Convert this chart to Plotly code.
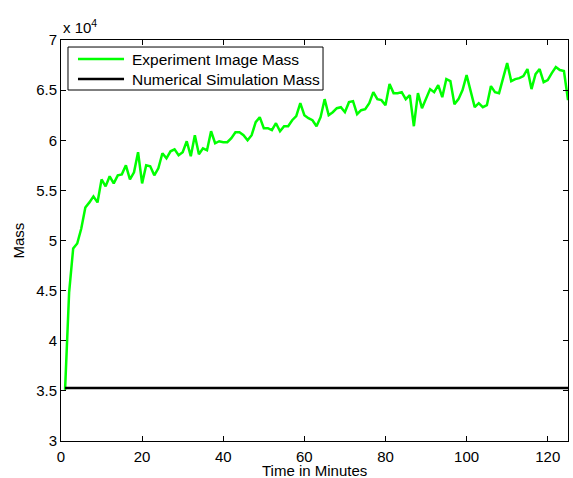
import plotly.graph_objects as go

# Time in minutes (one sample per minute)
time_min = list(range(1, 126))

# Experiment image mass (x 10^4)
experiment_mass_e4 = [
    3.51, 4.48, 4.92, 4.97, 5.12, 5.33, 5.38, 5.44, 5.38, 5.61,
    5.54, 5.64, 5.57, 5.65, 5.66, 5.75, 5.61, 5.68, 5.88, 5.57,
    5.75, 5.74, 5.65, 5.72, 5.87, 5.82, 5.89, 5.91, 5.85, 5.88,
    5.99, 5.84, 6.05, 5.86, 5.92, 5.90, 6.09, 5.97, 5.99, 5.98,
    5.98, 6.02, 6.08, 6.08, 6.05, 6.00, 6.05, 6.18, 6.23, 6.12,
    6.12, 6.10, 6.17, 6.09, 6.14, 6.14, 6.20, 6.24, 6.37, 6.25,
    6.22, 6.20, 6.14, 6.23, 6.41, 6.25, 6.28, 6.32, 6.33, 6.28,
    6.38, 6.39, 6.26, 6.30, 6.31, 6.37, 6.48, 6.41, 6.40, 6.35,
    6.56, 6.47, 6.47, 6.48, 6.41, 6.45, 6.14, 6.47, 6.32, 6.41,
    6.51, 6.48, 6.55, 6.43, 6.61, 6.59, 6.36, 6.41, 6.50, 6.65,
    6.48, 6.33, 6.37, 6.33, 6.35, 6.54, 6.48, 6.47, 6.62, 6.77,
    6.59, 6.61, 6.62, 6.64, 6.71, 6.51, 6.66, 6.71, 6.58, 6.60,
    6.67, 6.73, 6.70, 6.69, 6.40,
]
experiment_mass = [v * 1e4 for v in experiment_mass_e4]

# Numerical simulation mass (essentially flat)
sim_time = [1, 125]
sim_mass = [35280, 35290]

series_names = ["Experiment Image Mass", "Numerical Simulation Mass"]
series_colors = ["#00ff00", "black"]

x_ticks = [0, 20, 40, 60, 80, 100, 120]
y_tick_vals = [30000, 35000, 40000, 45000, 50000, 55000, 60000, 65000, 70000]
y_tick_text = ["3", "3.5", "4", "4.5", "5", "5.5", "6", "6.5", "7"]

FONT = "Liberation Sans, Arial, Helvetica, sans-serif"

fig = go.Figure()
fig.add_trace(go.Scatter(
    x=time_min, y=experiment_mass, mode="lines",
    name=series_names[0],
    line=dict(color=series_colors[0], width=2.5),
))
fig.add_trace(go.Scatter(
    x=sim_time, y=sim_mass, mode="lines",
    name=series_names[1],
    line=dict(color=series_colors[1], width=2.5),
))

axis_common = dict(
    showgrid=False, zeroline=False, showline=True, linecolor="black",
    linewidth=1, mirror="ticks", ticks="inside", ticklen=5,
    tickcolor="black", tickfont=dict(family=FONT, size=15, color="black"),
    automargin=False,
)

fig.update_layout(
    width=573, height=478,
    margin=dict(l=61, r=5, t=40, b=37),
    paper_bgcolor="white", plot_bgcolor="white",
    font=dict(family=FONT, size=15, color="black"),
    showlegend=False,
    xaxis=dict(range=[0, 125], tickvals=x_ticks, ticklabelstandoff=2,
               **axis_common),
    yaxis=dict(range=[30000, 70000], tickvals=y_tick_vals,
               ticktext=y_tick_text, **axis_common),
)

# Legend box (MATLAB-style), drawn in paper coordinates
fig.add_shape(type="rect", xref="paper", yref="paper",
              x0=0.0138, x1=0.5168, y0=0.8753, y1=0.9825,
              line=dict(color="black", width=1), fillcolor="white",
              layer="above")
legend_rows_y = [0.9526, 0.9027]
for name, color, ly in zip(series_names, series_colors, legend_rows_y):
    fig.add_shape(type="line", xref="paper", yref="paper",
                  x0=0.0335, x1=0.1243, y0=ly, y1=ly,
                  line=dict(color=color, width=2.5), layer="above")
    fig.add_annotation(x=0.1361, y=ly, xref="paper", yref="paper",
                       xanchor="left", yanchor="middle", text=name,
                       showarrow=False,
                       font=dict(family=FONT, size=15.5, color="black"))

fig.add_annotation(
    x=0, y=1, xref="paper", yref="paper", xanchor="left", yanchor="bottom",
    text="x 10<sup>4</sup>", showarrow=False, yshift=2,
    font=dict(family=FONT, size=15, color="black"),
)
fig.add_annotation(
    x=0.5, y=0, xref="paper", yref="paper", xanchor="center",
    yanchor="middle", yshift=-29, text="Time in Minutes", showarrow=False,
    font=dict(family=FONT, size=15, color="black"),
)
fig.add_annotation(
    x=0, y=0.5, xref="paper", yref="paper", xanchor="center",
    yanchor="middle", xshift=-43, textangle=-90, text="Mass",
    showarrow=False, font=dict(family=FONT, size=15, color="black"),
)

fig.write_html(
    "out.html",
    config={"displayModeBar": False},
    post_script="document.body.style.margin='0';"
                "document.body.style.overflow='hidden';",
)
